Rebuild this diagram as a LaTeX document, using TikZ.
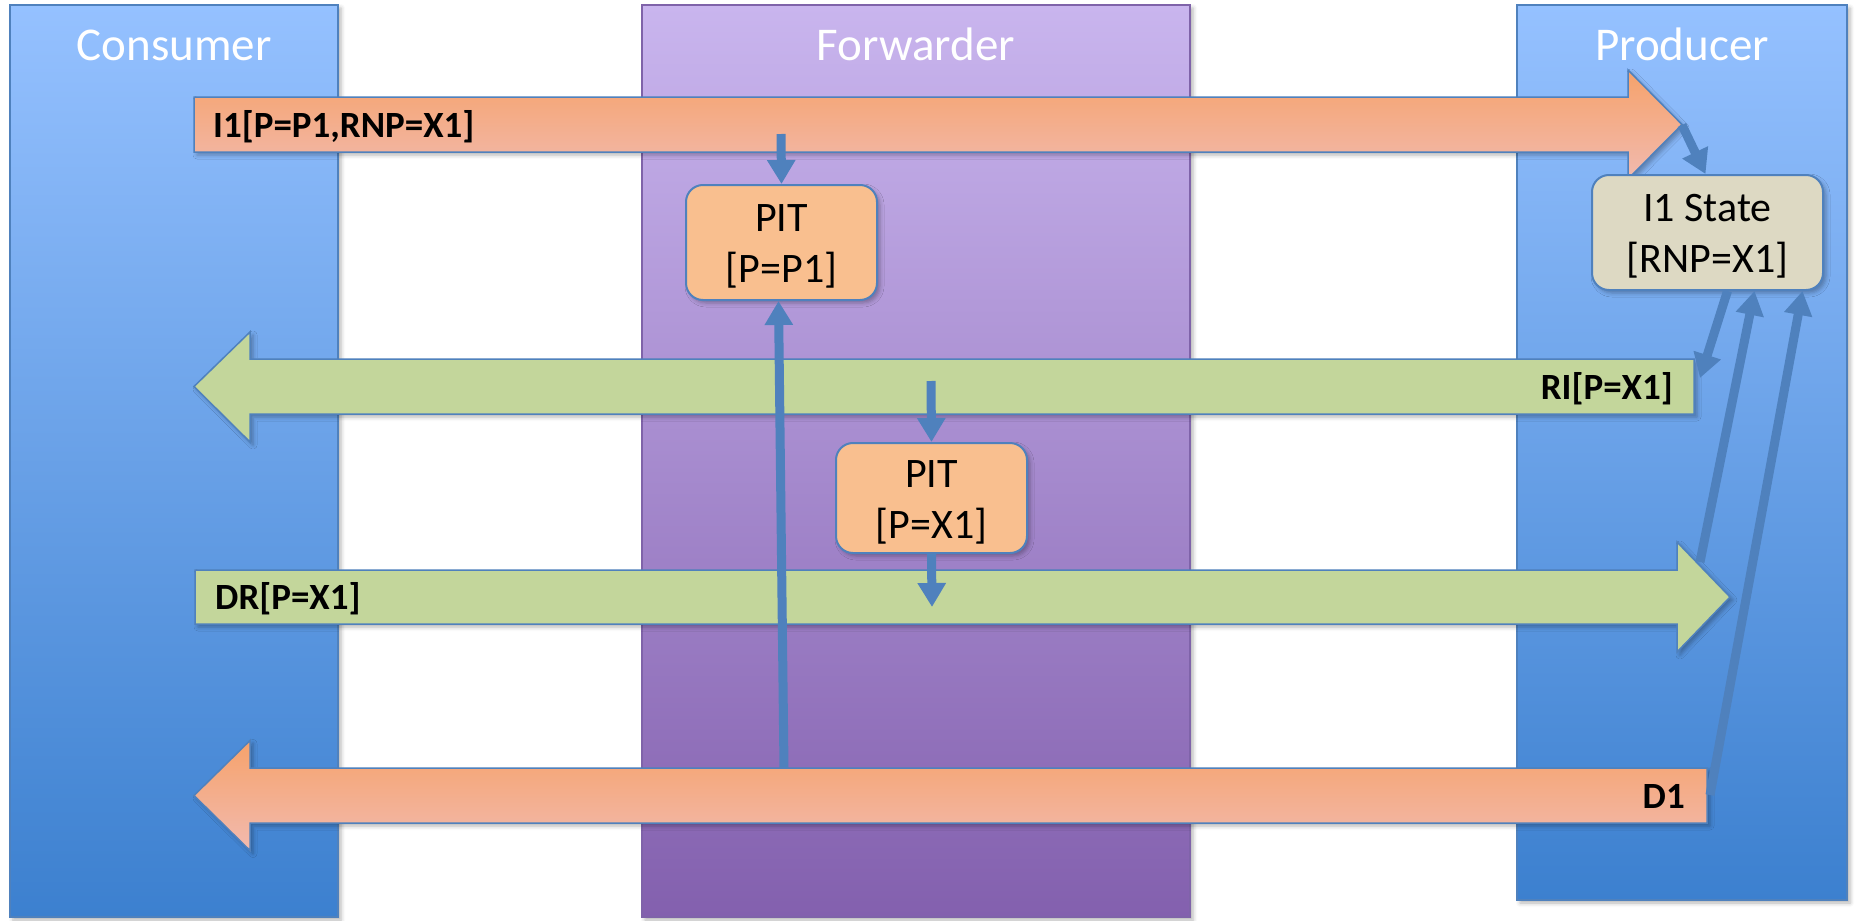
\documentclass[tikz,border=0pt]{standalone}
\usepackage{fontspec}
\setmainfont{Carlito}
\usetikzlibrary{arrows.meta,shadows.blur}

\definecolor{laneTop}{HTML}{95C1FF}
\definecolor{laneBot}{HTML}{3C80CF}
\definecolor{fwdTop}{HTML}{C9B5EE}
\definecolor{fwdBot}{HTML}{8360AE}
\definecolor{fwdEdge}{HTML}{7F63A9}
\definecolor{edgeBlue}{HTML}{4F81BD}
\definecolor{orangeTop}{HTML}{F6A26B}
\definecolor{orangeBot}{HTML}{F1BAAF}
\definecolor{greenFill}{HTML}{C3D69B}
\definecolor{pitFill}{HTML}{F9BF8F}
\definecolor{stateFill}{HTML}{DDD9C3}

\tikzset{
	softshadow/.style={blur shadow={shadow xshift=3pt, shadow yshift=-3pt, shadow blur radius=4pt, shadow opacity=30}},
	lane/.style={line width=1.5pt, softshadow},
	lanetitle/.style={text=white, font=\fontsize{47}{56}\selectfont, anchor=base},
	bigarrow/.style={draw=edgeBlue, line width=1.5pt, softshadow},
	msg/.style={font=\bfseries\fontsize{37}{44}\selectfont, inner sep=0pt},
	tablebox/.style={draw=edgeBlue, line width=2pt, rounded corners=17pt, align=center, inner sep=0pt, font=\fontsize{42}{51}\selectfont, softshadow},
	flow/.style={draw=edgeBlue, line width=9pt, -{Triangle[width=27pt,length=24pt]}}
}

\begin{document}
\begin{tikzpicture}[x=1pt, y=-1pt]
	\useasboundingbox (0,0) rectangle (1856,921);

	% lanes
	\foreach \lx/\rx/\by/\tc/\bc/\ec/\name in {10/338/917/laneTop/laneBot/edgeBlue/Consumer, 642/1190/917/fwdTop/fwdBot/fwdEdge/Forwarder, 1517/1847/900/laneTop/laneBot/edgeBlue/Producer}
		{
			\shadedraw[lane, draw=\ec, top color=\tc, bottom color=\bc] (\lx,5) rectangle (\rx,\by);
			\node[lanetitle] (\name) at ({(\lx+\rx)/2},60) {\name};
		}

	% I1 -> producer
	\shadedraw[bigarrow, top color=orangeTop, bottom color=orangeBot] (194,97) -- (1628,97) -- (1628,70) -- (1682,124.5) -- (1628,179) -- (1628,152) -- (194,152) -- cycle;
	\node[msg, anchor=base west] (i1lbl) at (213,137) {I1[P=P1,RNP=X1]};

	% RI <- producer
	\filldraw[bigarrow, fill=greenFill] (1694,359) -- (250,359) -- (250,332) -- (194,386.5) -- (250,442) -- (250,414) -- (1694,414) -- cycle;
	\node[msg, anchor=base east] (rilbl) at (1673,399) {RI[P=X1]};

	% DR -> producer
	\filldraw[bigarrow, fill=greenFill] (195,570) -- (1677,570) -- (1677,542) -- (1730,597) -- (1677,652) -- (1677,624) -- (195,624) -- cycle;
	\node[msg, anchor=base west] (drlbl) at (215,609) {DR[P=X1]};

	% D1 <- producer
	\shadedraw[bigarrow, top color=orangeTop, bottom color=orangeBot] (1707,768) -- (250,768) -- (250,740.5) -- (194,795.5) -- (250,850.5) -- (250,823) -- (1707,823) -- cycle;
	\node[msg, anchor=base east] (d1lbl) at (1685,808) {D1};

	% tables
	\node[tablebox, fill=pitFill, minimum width=191pt, minimum height=115pt] (pit1) at (781.5,242.5) {\strut PIT\\{}[P=P1]};
	\node[tablebox, fill=pitFill, minimum width=191pt, minimum height=110pt] (pit2) at (931.5,498) {\strut PIT\\{}[P=X1]};
	\node[tablebox, fill=stateFill, minimum width=231pt, minimum height=115pt] (state) at (1707.5,232.5) {\strut I1 State\\{}[RNP=X1]};

	% taps on the packets
	\coordinate (i1tap) at (781,134);
	\coordinate (d1up) at (784,768);
	\coordinate (ritap) at (931,381);
	\coordinate (drtap) at (932,607);
	\coordinate (i1tip) at (1682,125);
	\coordinate (riend) at (1700,378);
	\coordinate (drtip) at (1700,562);
	\coordinate (d1end) at (1710,795);

	% forwarder lookups
	\draw[flow] (i1tap) -- (pit1.north);
	\draw[flow] (d1up) -- ([xshift=-3pt]pit1.south);
	\draw[flow] (ritap) -- (pit2.north);
	\draw[flow] (pit2.south) -- (drtap);

	% producer state
	\draw[flow] (i1tip) -- ([xshift=-2pt]state.north);
	\draw[flow] ([xshift=20pt]state.south) -- (riend);
	\draw[flow] (drtip) -- ([xshift=47pt]state.south);
	\draw[flow] (d1end) -- ([xshift=95pt]state.south);
\end{tikzpicture}
\end{document}
